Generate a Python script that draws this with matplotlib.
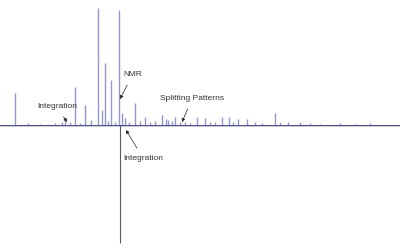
import matplotlib
matplotlib.use("Agg")
import matplotlib.pyplot as plt

plt.rcParams["font.family"] = ["Liberation Sans", "DejaVu Sans"]

# peak positions (arbitrary shift units) and intensities
peak_pos = [15, 28, 40, 55, 62, 65, 70, 75, 80, 85, 91, 98, 102, 105, 108, 111,
            115, 119, 122, 125, 129, 135, 140, 145, 150, 155, 162, 166, 168, 172,
            175, 180, 185, 190, 197, 205, 210, 215, 222, 229, 233, 238, 247, 255,
            262, 275, 280, 288, 300, 310, 320, 340, 355, 370]
peak_int = [32, 2, 1, 2, 3, 4, 3, 38, 2, 20, 5, 117, 15, 62, 4, 45,
            3, 115, 12, 7, 3, 22, 4, 8, 3, 4, 10, 6, 5, 4,
            8, 3, 3, 2, 8, 7, 3, 3, 8, 8, 3, 6, 6, 3,
            2, 12, 3, 3, 3, 2, 1, 2, 1, 2]

# negative (inverted) signal
neg_pos = 120
neg_int = -118

# labels: (text, text xy, arrow target xy)
labels = [
    ("Integration", (37, 18), (67, 3)),
    ("NMR", (123, 50), (120, 26)),
    ("Splitting Patterns", (160, 26), (182, 3)),
    ("Integration", (123, -33), (126, -5)),
]

fig = plt.figure(figsize=(4, 2.5), dpi=100)
ax = fig.add_axes([0, 0, 1, 1])
ax.set_xlim(0, 400)
ax.set_ylim(-125, 125)
ax.axis("off")

ax.axhline(-1, color="#c4c4c4", lw=0.6, zorder=1)
ax.vlines(peak_pos, 0, peak_int, color="#9595d0", lw=1.0, zorder=2)
ax.plot([0, 400], [0, 0], color="#4a4a90", lw=0.7, zorder=3)
ax.vlines([neg_pos], neg_int, 0, color="#5a5a5a", lw=0.8, zorder=2)

for txt, xy_text, xy in labels:
    ax.annotate(txt, xy=xy, xytext=xy_text, fontsize=6, color="#333333",
                ha="left", va="center",
                arrowprops=dict(arrowstyle="-|>", color="#222222", lw=0.5,
                                mutation_scale=5, shrinkA=3, shrinkB=0))

fig.savefig("out.png", dpi=100)
